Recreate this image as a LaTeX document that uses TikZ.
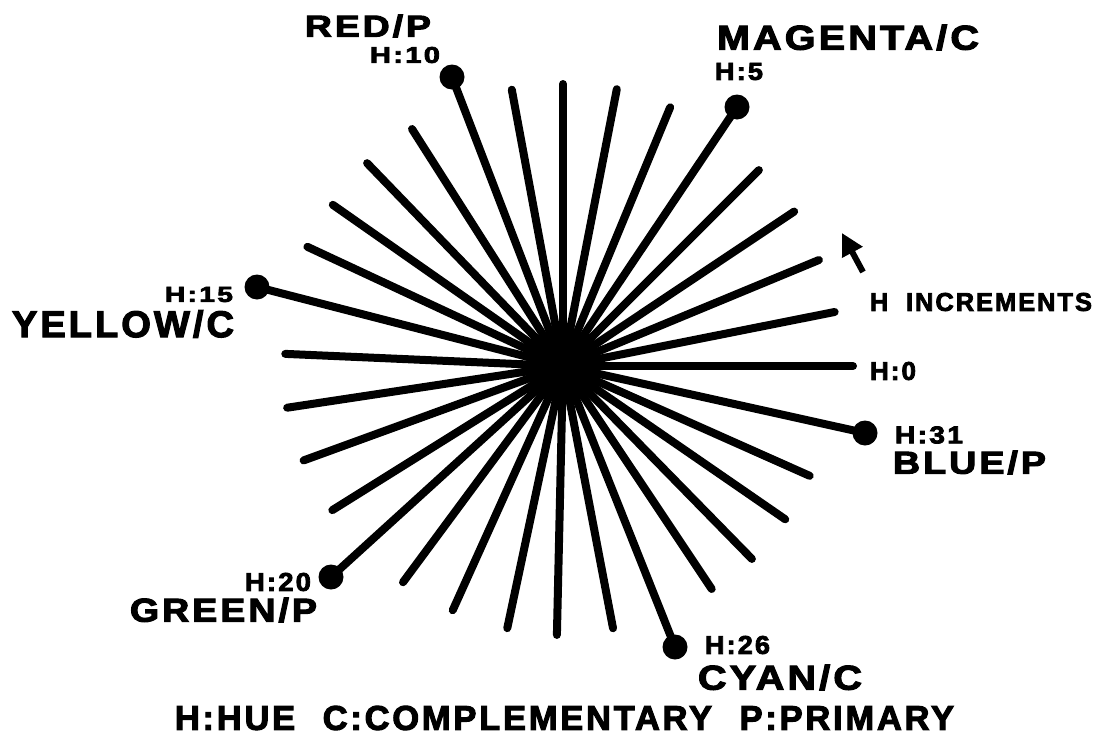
\documentclass[tikz,border=0pt]{standalone}
\usepackage{fontspec}
\usepackage{graphicx}
\usetikzlibrary{arrows.meta,calc}
\newfontfamily\heavy{Liberation Sans}[LetterSpace=8, BoldFeatures={FakeBold=3}]
\newcommand\mylab[3]{\resizebox{#1}{#2}{\heavy\bfseries #3}}
\tikzset{
  spoke/.style={line width=8pt, line cap=round},
  dot/.style={circle, fill=black, inner sep=0pt, minimum size=25pt},
  txt/.style={inner sep=0pt, anchor=center},
}
\begin{document}
\begin{tikzpicture}[x=1pt,y=-1pt]
\useasboundingbox (0,0) rectangle (1096,742);
\coordinate (c) at (563,366);
% plain spokes: angle / radius
\foreach \a/\r in {0/290, 11.25/277, 22.5/277, 33.75/278, 45/277,
  67.5/280, 79/282, 90/282, 100.5/281,
  122.5/281, 134/282, 145/281, 155/282,
  177.5/278, 188.6/279, 200/276, 212/272,
  233.5/269, 245.7/268, 258/268, 268.7/269, 280.8/267,
  303.7/268, 314.4/270, 325.4/270, 336/270}
  \draw[spoke] (c) -- ++(-\a:\r);
% dotted spokes
\node[dot] (h5)  at (737,107) {};
\node[dot] (h10) at (452,77) {};
\node[dot] (h15) at (257,287) {};
\node[dot] (h20) at (331,577) {};
\node[dot] (h26) at (675,647) {};
\node[dot] (h31) at (865,433) {};
\foreach \n in {h5,h10,h15,h20,h26,h31}
  \draw[spoke] (c) -- (\n.center);
\fill (c) circle (37pt);
% labels
\node[txt] (redp) at (368,26) {\mylab{126pt}{22pt}{RED/P}};
\node[txt] (l10) at (405,55) {\mylab{70pt}{16pt}{H:10}};
\node[txt] (magc) at (848,37.5) {\mylab{262pt}{25pt}{MAGENTA/C}};
\node[txt] (l5) at (739,71.5) {\mylab{48pt}{17pt}{H:5}};
\node[txt] (l15) at (199,294.5) {\mylab{68pt}{15pt}{H:15}};
\node[txt] (yelc) at (123,324) {\mylab{222pt}{27pt}{YELLOW/C}};
\node[txt] (incr) at (981,302) {\mylab{222pt}{18pt}{H\hspace{0.7em}INCREMENTS}};
\node[txt] (l0) at (893,371) {\mylab{46pt}{18pt}{H:0}};
\node[txt] (l31) at (929,435) {\mylab{68pt}{17pt}{H:31}};
\node[txt] (bluep) at (969.5,462.5) {\mylab{153pt}{23pt}{BLUE/P}};
\node[txt] (l20) at (278,582) {\mylab{66pt}{18pt}{H:20}};
\node[txt] (grep) at (223.5,610) {\mylab{187pt}{24pt}{GREEN/P}};
\node[txt] (l26) at (737.5,645) {\mylab{65pt}{18pt}{H:26}};
\node[txt] (cyac) at (780,677.5) {\mylab{164pt}{25pt}{CYAN/C}};
\node[txt] (legend) at (564.5,718) {\mylab{779pt}{24pt}{H:HUE\hspace{0.8em}C:COMPLEMENTARY\hspace{0.8em}P:PRIMARY}};
% arrow
\coordinate (atail) at (863,272);
\coordinate (atip) at (842,233);
\draw[line width=6pt, -{Triangle[length=22pt,width=22pt]}] (atail) -- (atip);
\end{tikzpicture}
\end{document}
